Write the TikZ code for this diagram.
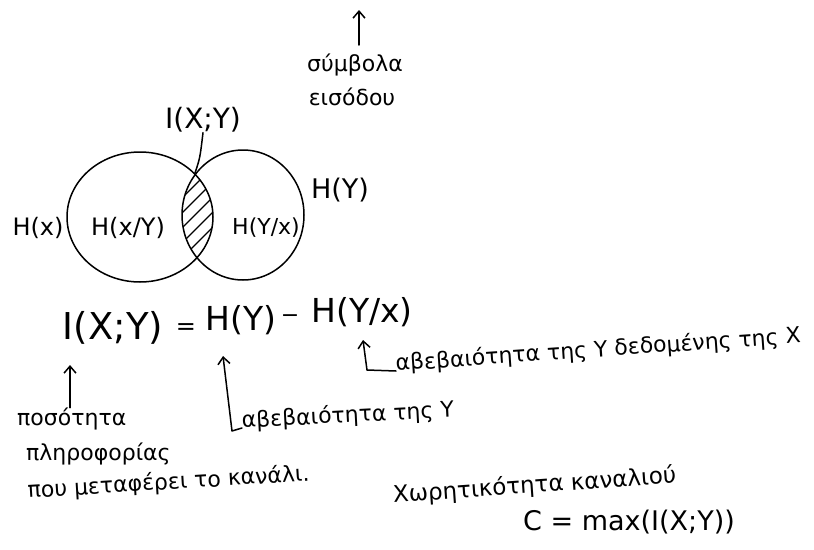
\documentclass[tikz,border=0pt]{standalone}
\usepackage{fontspec}
\setmainfont{DejaVu Sans}
\usetikzlibrary{arrows.meta}
\begin{document}
\begin{tikzpicture}[x=1pt,y=-1pt,
  ink/.style={line width=1.5pt, black, line cap=round, line join=round},
  arr/.style={ink, -{Straight Barb[length=7pt,width=12pt,line width=1.5pt]}},
  lbl/.style={inner sep=0pt, font=\fontsize{24}{28}\selectfont},
  greek/.style={inner sep=0pt, font=\fontsize{22}{26}\selectfont},
  formula/.style={inner sep=0pt, font=\fontsize{33}{40}\selectfont},
  hatch/.style={line width=1.2pt}]
\useasboundingbox (0,0) rectangle (814,549);

% top: input symbols
\node[greek] (sym1) at (355,65) {σύμβολα};
\node[greek] (sym2) at (352,97) {εισόδου};
\coordinate (symTail) at (359,45);
\coordinate (symTip) at (359,10);
\draw[arr] (symTail) -- (symTip);

% Venn diagram
\draw[ink] (140,217) ellipse [x radius=73pt, y radius=65pt];
\draw[ink] (243,215) ellipse [x radius=61pt, y radius=65pt];
\begin{scope}
  \clip (140,217) ellipse [x radius=73pt, y radius=65pt];
  \clip (243,215) ellipse [x radius=61pt, y radius=65pt];
  \foreach \k in {0,...,9}
    \draw[hatch] (150,200+15*\k) -- ++(90,-90);
\end{scope}

\node[lbl] (hx) at (38,228) {H(x)};
\node[lbl] (hxy) at (128,228) {H(x/Y)};
\node[lbl,font=\fontsize{22}{26}\selectfont] (hyx) at (266,228) {H(Y/x)};
\node[lbl,font=\fontsize{27}{30}\selectfont] (hy) at (340,190) {H(Y)};
\node[lbl,font=\fontsize{28}{32}\selectfont] (ixy) at (203,120) {I(X;Y)};
\coordinate (lensPt) at (195,173);
\draw[ink] (ixy.south) .. controls (200,158) .. (lensPt);

% formula
\node[formula,font=\fontsize{37}{44}\selectfont] (fI) at (113,328) {I(X;Y)};
\node[formula,font=\fontsize{24}{28}\selectfont] (fEq) at (186,329) {=};
\node[formula] (fHY) at (241,320) {H(Y)};
\node[formula,font=\fontsize{22}{26}\selectfont] (fMinus) at (290,319) {−};
\node[formula] (fHYX) at (362,312) {H(Y/x)};

% explanations
\node[greek,anchor=west] (poso) at (17,419) {ποσότητα};
\node[greek,anchor=west] (plir) at (26,454) {πληροφορίας};
\node[greek,anchor=base west,rotate=3.5] (pou) at (28,498) {που μεταφέρει το κανάλι.};
\coordinate (iTip) at (70,365);
\draw[arr] (poso.north -| iTip) -- (iTip);

\node[greek,anchor=base west,rotate=3] (avY) at (242,428) {αβεβαιότητα της Y};
\coordinate (hyTip) at (223,356);
\coordinate (hyCorner) at (232,431);
\draw[arr] (avY.base west) -- (hyCorner) -- (hyTip);

\node[greek,anchor=base west,rotate=4] (avYX) at (396,371) {αβεβαιότητα της Y δεδομένης της X};
\coordinate (hyxTip) at (363,340);
\coordinate (hyxCorner) at (367,370);
\draw[arr] (avYX.base west) -- (hyxCorner) -- (hyxTip);

% capacity
\node[greek,anchor=west,rotate=4,font=\fontsize{23}{27}\selectfont] (xor) at (393,496) {Χωρητικότητα καναλιού};
\node[inner sep=0pt,anchor=west,font=\fontsize{27}{32}\selectfont] (cap) at (523,522) {C = max(I(X;Y))};
\end{tikzpicture}
\end{document}
